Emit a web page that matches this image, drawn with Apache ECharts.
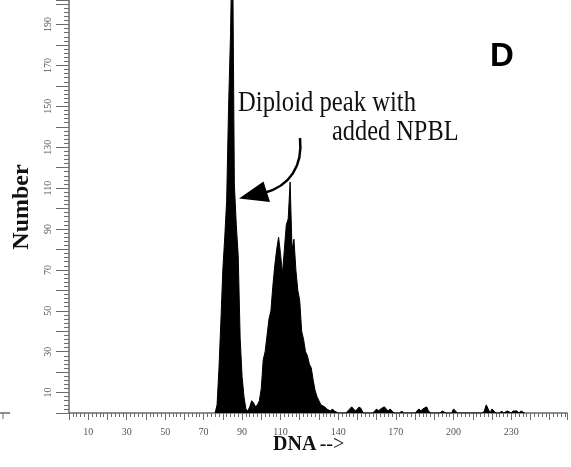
<!DOCTYPE html>
<html>
<head>
<meta charset="utf-8">
<script src="https://cdn.jsdelivr.net/npm/echarts@6/dist/echarts.min.js"></script>
<style>
  html, body { margin: 0; padding: 0; background: #fff; }
  #chart { width: 571px; height: 467px; }
</style>
</head>
<body>
<div id="chart"></div>
<script>
// Histogram counts, one per DNA channel starting at channel 76
const firstPeakChannel = 76;
const peakCounts = [
  0, 4, 22, 45, 70, 86, 104, 150, 185, 240,   // 76 - 85 (diploid peak, off the top)
  112, 92, 77, 37, 18, 8, 2, 1, 3, 6,         // 86 - 95
  5, 3, 4, 6, 12, 26, 30, 38, 46, 50,         // 96 - 105
  62, 72, 80, 86, 78, 68, 80, 92, 95, 113,    // 106 - 115
  80, 85, 70, 60, 55, 40, 36, 30, 28, 24,     // 116 - 125
  22, 16, 11, 8, 6, 4, 4, 3, 2, 2,            // 126 - 135
  1, 2, 1, 1, 0                               // 136 - 140
];

// Sparse debris to the right of the peaks
const tailChannels = [
  144, 145, 146, 147, 148, 149, 150, 151, 152, 153,
  158, 159, 160, 161, 162, 163, 164, 165, 166, 167, 168, 169,
  172, 173, 174,
  180, 181, 182, 183, 184, 185, 186, 187, 188,
  193, 194, 195, 196,
  199, 200, 201, 202,
  215, 216, 217, 218, 219, 220, 221, 222,
  224, 225, 226, 227, 228, 229, 230, 231, 232, 233, 234, 235, 236, 237
];
const tailCounts = [
  0, 1, 2, 3, 2, 1, 2, 3, 2, 0,
  0, 1, 2, 1, 2, 2, 3, 2, 1, 2, 1, 0,
  0, 1, 0,
  0, 1, 2, 1, 2, 2, 3, 1, 0,
  0, 1, 1, 0,
  0, 2, 1, 0,
  0, 1, 4, 2, 0, 2, 1, 0,
  0, 1, 0, 0, 1, 1, 0, 1, 1, 1, 0, 1, 1, 0
];

const xTickLabels = [10, 30, 50, 70, 90, 110, 140, 170, 200, 230];
const yTickLabels = [10, 30, 50, 70, 90, 110, 130, 150, 170, 190];

const chart = echarts.init(document.getElementById('chart'));

const points = [];
peakCounts.forEach((count, i) => {
  points.push([firstPeakChannel + i, count]);
});
tailChannels.forEach((channel, i) => {
  points.push([channel, tailCounts[i]]);
});

const axisGrey = '#6a6a6a';
const labelFont = {
  fontFamily: 'Liberation Serif',
  fontSize: 10,
  color: '#555'
};

chart.setOption({
  animation: false,
  grid: {
    left: 69,
    right: 4,
    top: 0,
    bottom: 54
  },
  xAxis: {
    type: 'value',
    min: 0,
    max: 259,
    interval: 10,
    splitLine: { show: false },
    axisLine: { lineStyle: { color: axisGrey, width: 1.5 } },
    axisTick: { length: 7, lineStyle: { color: axisGrey, width: 1 } },
    minorTick: { show: true, splitNumber: 5, length: 4, lineStyle: { color: axisGrey, width: 1 } },
    axisLabel: Object.assign({
      margin: 14,
      showMaxLabel: false,
      formatter: (v) => (xTickLabels.includes(v) ? String(v) : '')
    }, labelFont)
  },
  yAxis: {
    type: 'value',
    min: 0,
    max: 202,
    interval: 10,
    splitLine: { show: false },
    axisLine: { show: true, lineStyle: { color: axisGrey, width: 1.5 } },
    axisTick: { show: true, length: 13, lineStyle: { color: axisGrey, width: 1 } },
    minorTick: { show: true, splitNumber: 5, length: 5, lineStyle: { color: axisGrey, width: 1 } },
    axisLabel: Object.assign({
      rotate: 90,
      margin: 16,
      showMaxLabel: false,
      formatter: (v) => (yTickLabels.includes(v) ? String(v) : '')
    }, labelFont)
  },
  series: [
    {
      type: 'line',
      data: points,
      showSymbol: false,
      clip: true,
      lineStyle: { color: '#000', width: 1 },
      areaStyle: { color: '#000', opacity: 1 }
    }
  ],
  graphic: [
    // fragment of the neighbouring panel's axis at the far left
    {
      type: 'line',
      shape: { x1: 0, y1: 413, x2: 10, y2: 413 },
      style: { stroke: axisGrey, lineWidth: 1.5 }
    },
    {
      type: 'line',
      shape: { x1: 3, y1: 413, x2: 3, y2: 419 },
      style: { stroke: axisGrey, lineWidth: 1 }
    },
    {
      type: 'text',
      left: 490,
      top: 40,
      style: {
        text: 'D',
        font: 'bold 33px "Liberation Sans"',
        fill: '#000'
      }
    },
    {
      type: 'text',
      x: 238,
      y: 118,
      scaleX: 0.85,
      style: {
        text: 'Diploid peak with',
        font: '29px "Liberation Serif"',
        fill: '#111',
        textVerticalAlign: 'bottom'
      }
    },
    {
      type: 'text',
      x: 332,
      y: 147,
      scaleX: 0.84,
      style: {
        text: 'added NPBL',
        font: '29px "Liberation Serif"',
        fill: '#111',
        textVerticalAlign: 'bottom'
      }
    },
    {
      type: 'bezierCurve',
      shape: { x1: 300, y1: 138, cpx1: 303, cpy1: 166, cpx2: 290, cpy2: 186, x2: 264, y2: 193 },
      style: { stroke: '#000', lineWidth: 2.5, fill: null }
    },
    {
      type: 'polygon',
      shape: { points: [[239, 198.5], [263.5, 181.5], [270, 202]] },
      style: { fill: '#000' }
    },
    {
      type: 'text',
      x: 22,
      y: 207,
      rotation: Math.PI / 2,
      style: {
        text: 'Number',
        font: 'bold 24px "Liberation Serif"',
        fill: '#111',
        textAlign: 'center',
        textVerticalAlign: 'middle'
      }
    },
    {
      type: 'text',
      x: 273,
      y: 455,
      style: {
        text: '{b|DNA} {a|-->}',
        textVerticalAlign: 'bottom',
        rich: {
          b: { font: 'bold 20px "Liberation Serif"', fill: '#111' },
          a: { font: '20px "Liberation Serif"', fill: '#111' }
        }
      }
    }
  ]
});
</script>
</body>
</html>
